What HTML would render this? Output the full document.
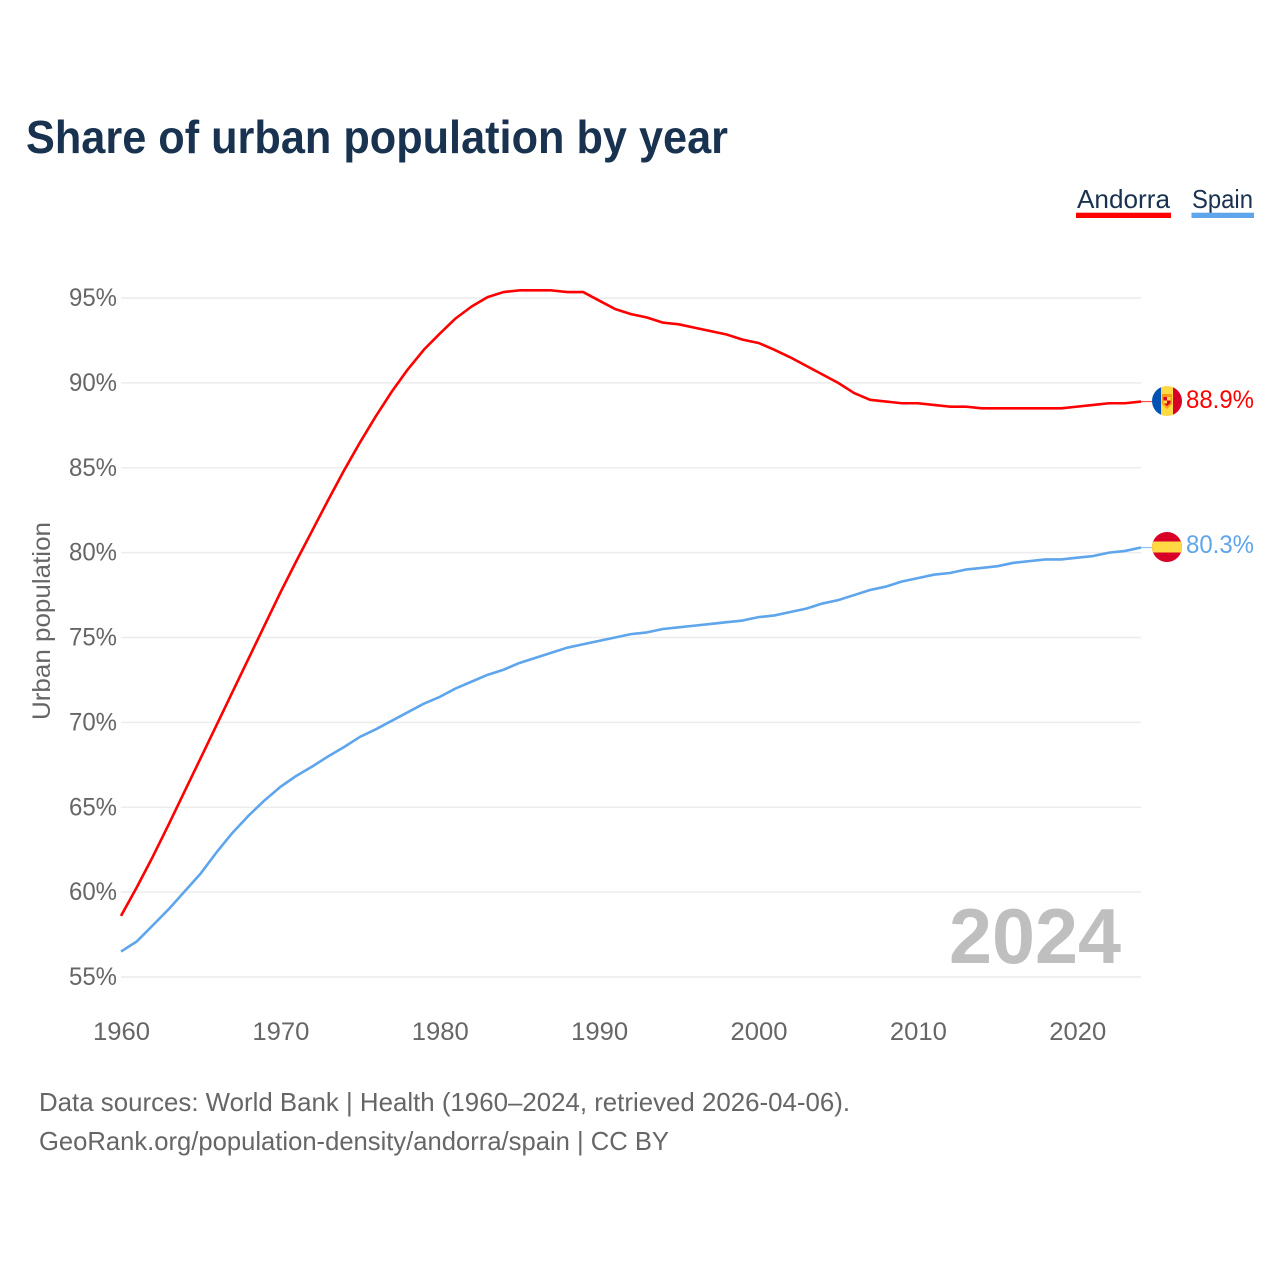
<!DOCTYPE html>
<html lang="en">
<head>
<meta charset="utf-8">
<title>Share of urban population by year</title>
<style>
html,body{margin:0;padding:0;background:#fff;}
svg{display:block;}
text{font-family:"Liberation Sans",sans-serif;}
</style>
</head>
<body>
<svg id="chart" xmlns="http://www.w3.org/2000/svg" width="1280" height="1280" viewBox="0 0 1280 1280">
  <rect width="1280" height="1280" fill="#fff"/>
  <text x="26" y="153" font-size="46" font-weight="700" fill="#18324f" textLength="702" lengthAdjust="spacingAndGlyphs">Share of urban population by year</text>

  <text x="1077" y="208" font-size="26" fill="#18324f" textLength="93" lengthAdjust="spacingAndGlyphs">Andorra</text>
  <rect x="1076" y="212.700" width="95" height="5.300" fill="#ff0000"/>
  <text x="1192" y="208" font-size="26" fill="#18324f" textLength="61" lengthAdjust="spacingAndGlyphs">Spain</text>
  <rect x="1191.500" y="212.700" width="62.500" height="5.300" fill="#5ea5ec"/>

  <g id="grid"></g>
  <g id="yticks"></g>
  <g id="xticks"></g>

  <text transform="translate(50,720) rotate(-90)" font-size="25" fill="#666" textLength="198" lengthAdjust="spacingAndGlyphs">Urban population</text>

  <text x="1121" y="963" text-anchor="end" font-size="78" font-weight="700" fill="#bfbfbf" textLength="172" lengthAdjust="spacingAndGlyphs">2024</text>

  <g id="series"></g>

  <defs>
    <clipPath id="clip-ad"><circle cx="1167" cy="401" r="15"/></clipPath>
    <clipPath id="clip-es"><circle cx="1167" cy="547" r="15"/></clipPath>
  </defs>

  <g clip-path="url(#clip-ad)">
    <rect x="1152" y="386" width="9" height="30" fill="#0052b4"/>
    <rect x="1161" y="386" width="12" height="30" fill="#ffda44"/>
    <rect x="1173" y="386" width="9" height="30" fill="#d80027"/>
    <path d="M1162 394h10v10l-5 5l-5-5z" fill="#ff9811"/>
    <path d="M1163.500 397h7v6l-3.500 3l-3.500-3z" fill="#d80027"/>
    <rect x="1167" y="397" width="3.500" height="3.500" fill="#ffda44"/>
    <rect x="1163.500" y="400.500" width="3.500" height="3" fill="#ffda44"/>
  </g>
  <g clip-path="url(#clip-es)">
    <rect x="1152" y="532" width="30" height="30" fill="#d80027"/>
    <rect x="1152" y="541.500" width="30" height="11" fill="#ffda44"/>
  </g>

  <text id="label-ad" x="1186" y="408" font-size="25" fill="#ff0000" textLength="68" lengthAdjust="spacingAndGlyphs">88.9%</text>
  <text id="label-es" x="1186" y="553" font-size="25" fill="#5ea5ec" textLength="68" lengthAdjust="spacingAndGlyphs">80.3%</text>

  <text x="39" y="1111" font-size="26" fill="#666" textLength="811" lengthAdjust="spacingAndGlyphs">Data sources: World Bank | Health (1960–2024, retrieved 2026-04-06).</text>
  <text x="39" y="1150" font-size="26" fill="#666" textLength="630" lengthAdjust="spacingAndGlyphs">GeoRank.org/population-density/andorra/spain | CC BY</text>
</svg>
<script>
const years = [1960,1961,1962,1963,1964,1965,1966,1967,1968,1969,1970,1971,1972,1973,1974,1975,1976,1977,1978,1979,1980,1981,1982,1983,1984,1985,1986,1987,1988,1989,1990,1991,1992,1993,1994,1995,1996,1997,1998,1999,2000,2001,2002,2003,2004,2005,2006,2007,2008,2009,2010,2011,2012,2013,2014,2015,2016,2017,2018,2019,2020,2021,2022,2023,2024];
const andorraValues = [58.6,60.3,62.1,64.0,65.95,67.9,69.85,71.8,73.75,75.7,77.65,79.5,81.3,83.1,84.85,86.5,88.05,89.5,90.8,91.95,92.9,93.8,94.5,95.05,95.35,95.45,95.45,95.45,95.35,95.35,94.85,94.35,94.05,93.85,93.55,93.45,93.25,93.05,92.85,92.55,92.35,91.95,91.5,91.0,90.5,90.0,89.4,89.0,88.9,88.8,88.8,88.7,88.6,88.6,88.5,88.5,88.5,88.5,88.5,88.5,88.6,88.7,88.8,88.8,88.9];
const spainValues = [56.5,57.1,58.05,59.0,60.05,61.1,62.35,63.5,64.5,65.4,66.2,66.85,67.4,68.0,68.55,69.15,69.6,70.1,70.6,71.1,71.5,72.0,72.4,72.8,73.1,73.5,73.8,74.1,74.4,74.6,74.8,75.0,75.2,75.3,75.5,75.6,75.7,75.8,75.9,76.0,76.2,76.3,76.5,76.7,77.0,77.2,77.5,77.8,78.0,78.3,78.5,78.7,78.8,79.0,79.1,79.2,79.4,79.5,79.6,79.6,79.7,79.8,80.0,80.1,80.3];
const yTickValues = [55,60,65,70,75,80,85,90,95];
const xTickValues = [1960,1970,1980,1990,2000,2010,2020];

const NS = 'http://www.w3.org/2000/svg';
const xScale = function (year) { return 121 + (year - 1960) * (1141 - 121) / (2024 - 1960); };
const yScale = function (value) { return 977 - (value - 55) * (977 - 298) / (95 - 55); };

const grid = document.getElementById('grid');
const yticks = document.getElementById('yticks');
const xticks = document.getElementById('xticks');
const series = document.getElementById('series');

yTickValues.forEach(function (v) {
  const line = document.createElementNS(NS, 'line');
  
  
  line.setAttribute('x1', 121);
  line.setAttribute('x2', 1141);
  line.setAttribute('y1', yScale(v));
  line.setAttribute('y2', yScale(v));
  line.setAttribute('stroke', '#ececec');
  line.setAttribute('stroke-width', '1.5');
  grid.appendChild(line);

  const label = document.createElementNS(NS, 'text');
  
  
  label.setAttribute('x', 69);
  label.setAttribute('y', yScale(v) + 8);
  label.setAttribute('font-size', '25');
  label.setAttribute('fill', '#666');
  label.setAttribute('textLength', '48');
  label.setAttribute('lengthAdjust', 'spacingAndGlyphs');
  label.textContent = v + '%';
  yticks.appendChild(label);
});

xTickValues.forEach(function (t) {
  const label = document.createElementNS(NS, 'text');
  
  
  label.setAttribute('x', xScale(t) - 28);
  label.setAttribute('y', 1040);
  label.setAttribute('font-size', '25');
  label.setAttribute('fill', '#666');
  label.setAttribute('textLength', '57');
  label.setAttribute('lengthAdjust', 'spacingAndGlyphs');
  label.textContent = t;
  xticks.appendChild(label);
});

function pathFor(values) {
  return values.map(function (v, i) {
    return (i ? 'L' : 'M') + xScale(years[i]).toFixed(2) + ' ' + yScale(v).toFixed(2);
  }).join(' ');
}

const andorraLine = document.createElementNS(NS, 'path');


andorraLine.setAttribute('d', pathFor(andorraValues));
andorraLine.setAttribute('fill', 'none');
andorraLine.setAttribute('stroke', '#ff0000');
andorraLine.setAttribute('stroke-width', '2.6');
andorraLine.setAttribute('stroke-linejoin', 'round');
series.appendChild(andorraLine);

const spainLine = document.createElementNS(NS, 'path');


spainLine.setAttribute('d', pathFor(spainValues));
spainLine.setAttribute('fill', 'none');
spainLine.setAttribute('stroke', '#5ea5ec');
spainLine.setAttribute('stroke-width', '2.6');
spainLine.setAttribute('stroke-linejoin', 'round');
series.appendChild(spainLine);

const andorraConnector = document.createElementNS(NS, 'line');


andorraConnector.setAttribute('x1', xScale(2024));
andorraConnector.setAttribute('x2', 1152);
andorraConnector.setAttribute('y1', yScale(andorraValues[andorraValues.length - 1]));
andorraConnector.setAttribute('y2', yScale(andorraValues[andorraValues.length - 1]));
andorraConnector.setAttribute('stroke', '#ff0000');
andorraConnector.setAttribute('stroke-width', '1.2');
andorraConnector.setAttribute('stroke-opacity', '0.7');
series.appendChild(andorraConnector);

const spainConnector = document.createElementNS(NS, 'line');


spainConnector.setAttribute('x1', xScale(2024));
spainConnector.setAttribute('x2', 1152);
spainConnector.setAttribute('y1', yScale(spainValues[spainValues.length - 1]));
spainConnector.setAttribute('y2', yScale(spainValues[spainValues.length - 1]));
spainConnector.setAttribute('stroke', '#5ea5ec');
spainConnector.setAttribute('stroke-width', '1.2');
spainConnector.setAttribute('stroke-opacity', '0.7');
series.appendChild(spainConnector);
</script>
</body>
</html>
